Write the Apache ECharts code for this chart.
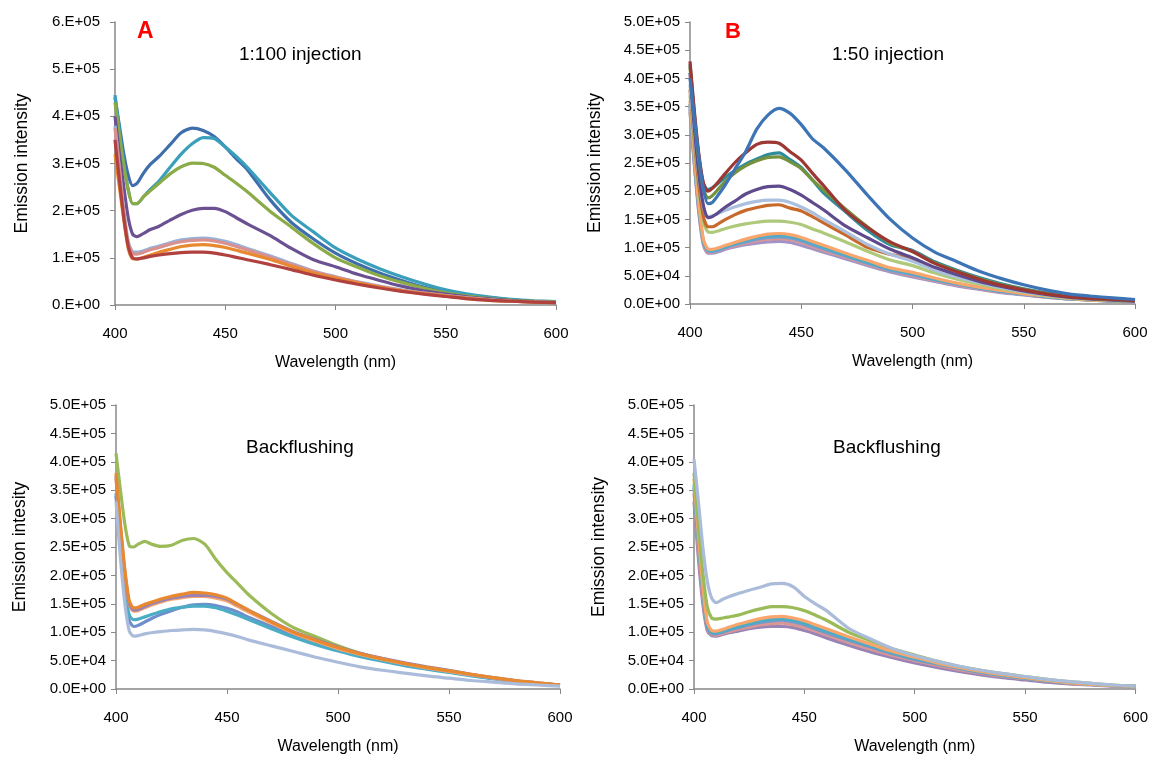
<!DOCTYPE html>
<html><head><meta charset="utf-8">
<script src="https://cdn.jsdelivr.net/npm/echarts@6/dist/echarts.min.js"></script>
<style>html,body{margin:0;padding:0;background:#fff}#c{width:1151px;height:760px}</style>
</head><body><div id="c"></div>
<script>
// wavelengths (nm)
const WL = [400,402,404,406,408,410,413,416,420,425,430,435,440,445,450,455,460,470,480,490,500,510,520,530,540,550,560,570,580,590,600];
// values in units of 1000 counts
// Panel A : 1:100 injection
const A_blue   = [440,380,320,275,253,258,280,298,315,340,365,375,370,357,335,310,287,225,175,140,110,87,68,52,38,28,20,15,11,8,6];
const A_cyan   = [445,370,300,245,215,215,230,245,263,292,320,342,355,353,335,315,292,240,190,155,121,97,77,60,45,32,23,17,12,9,7];
const A_green  = [430,360,295,243,215,215,230,242,258,278,293,301,300,292,275,258,240,200,165,130,100,80,62,48,36,26,19,14,10,8,6];
const A_purple = [400,320,250,185,150,145,152,160,167,180,192,201,205,205,198,185,172,148,120,96,81,65,52,40,30,23,17,13,9,7,5];
const A_lblue  = [380,290,200,135,113,112,115,120,125,132,138,141,142,140,135,128,120,105,88,72,60,49,40,32,25,20,15,11,8,6,5];
const A_pink   = [375,285,195,130,110,108,112,117,122,129,134,137,138,136,131,124,117,102,86,71,59,48,39,31,25,20,15,11,8,6,5];
const A_orange = [320,250,180,120,98,97,101,106,112,118,124,127,128,126,122,116,110,97,82,68,57,47,38,30,24,19,14,10,8,6,5];
const A_red    = [350,265,185,125,100,98,100,103,106,109,111,112,112,110,106,101,96,86,75,63,53,44,36,29,23,18,13,10,8,6,5];
// Panel B : 1:50 injection
const B_blue   = [400,330,260,205,178,180,195,212,238,270,310,335,347,338,318,293,277,237,192,150,117,92,75,58,45,34,25,18,14,11,8];
const B_red    = [430,340,265,215,200,205,218,232,250,268,283,287,285,270,255,232,210,165,135,110,93,72,57,44,33,25,18,13,10,8,6];
const B_olive  = [420,330,255,205,188,192,205,218,232,245,254,260,261,252,240,220,202,168,136,108,93,73,58,45,34,26,19,14,10,8,6];
const B_teal   = [425,335,260,213,203,206,215,225,236,248,257,265,268,256,242,220,197,163,130,105,95,75,60,47,36,27,20,15,11,8,6];
const B_purple = [410,310,230,175,153,155,163,172,182,195,203,208,209,203,193,180,167,138,117,97,82,65,52,40,31,23,17,12,9,7,5];
const B_lblue  = [390,300,225,172,155,156,161,166,172,178,182,184,184,180,172,162,150,128,105,88,76,60,48,38,29,22,16,12,9,7,5];
const B_brown  = [380,290,210,155,137,137,143,150,158,166,171,175,176,170,165,155,144,122,100,88,80,64,51,40,31,23,17,12,9,7,5];
const B_lgreen = [370,280,200,145,128,127,130,134,138,142,145,147,147,145,141,133,126,110,93,78,68,55,44,35,27,21,15,11,8,6,5];
const B_orange = [360,260,175,115,98,97,100,104,109,115,120,124,125,123,118,111,104,90,77,64,56,46,37,30,24,18,14,10,7,6,5];
const B_cyan   = [355,255,170,112,96,95,98,102,107,113,118,121,122,120,115,108,101,87,74,62,54,44,36,29,23,18,13,10,7,6,5];
const B_sblue  = [350,250,168,110,94,93,96,100,105,110,115,118,119,117,112,105,98,85,72,60,52,43,35,28,22,17,13,9,7,5,4];
const B_pink   = [345,248,165,108,92,92,95,99,103,108,112,115,116,114,109,102,95,83,70,59,50,42,34,27,21,17,12,9,7,5,4];
const B_lav    = [340,245,160,105,90,90,93,97,101,105,108,110,111,109,104,98,92,80,68,57,48,40,32,26,20,16,12,9,7,5,4];
// Panel C : Backflushing (A)
const C_green  = [415,350,290,252,250,255,260,255,251,253,262,265,255,228,205,185,165,133,108,92,76,63,53,45,38,32,25,19,14,10,7];
const C_orange = [380,290,210,155,143,144,149,153,158,163,167,170,169,166,160,149,138,118,100,86,73,62,53,45,38,32,26,20,15,11,7];
const C_lav    = [375,285,205,150,139,140,145,150,155,160,163,165,165,163,158,148,138,119,101,87,74,63,54,46,39,33,26,20,15,11,7];
const C_salmon = [370,280,200,148,137,138,143,148,153,158,161,163,163,160,155,145,135,116,98,84,71,61,52,44,37,31,25,19,14,10,7];
const C_blue   = [340,250,170,120,110,112,118,124,131,138,144,148,149,147,142,135,126,110,94,81,70,60,51,43,36,30,24,18,13,10,7];
const C_cyan   = [345,255,175,130,122,123,127,131,136,141,144,146,146,143,137,130,122,106,91,78,67,57,49,41,35,29,23,18,13,9,6];
const C_lblue  = [330,230,150,102,93,94,97,99,101,103,104,105,104,101,97,92,86,76,66,56,47,39,33,28,23,19,15,12,9,7,5];
// Panel D : Backflushing (B)
const D_lblue  = [405,330,250,190,160,152,158,163,168,174,179,185,186,180,163,150,138,107,88,71,59,49,40,33,27,22,17,13,10,7,5];
const D_green  = [380,290,205,145,125,123,125,127,130,136,141,145,145,143,138,130,121,100,85,71,60,49,40,33,27,22,17,13,10,7,5];
const D_orange = [370,270,180,118,103,102,105,109,114,119,124,127,128,125,120,113,106,92,79,66,56,46,38,31,25,20,15,11,8,6,5];
const D_cyan   = [360,262,175,112,100,99,102,106,110,115,120,123,124,121,116,109,102,88,76,64,54,45,37,30,24,19,15,11,8,6,5];
const D_blue   = [355,258,170,110,98,97,100,104,108,113,117,120,121,118,113,106,99,86,74,62,52,44,36,29,23,19,14,11,8,6,5];
const D_pink   = [345,245,162,107,96,95,98,101,105,109,113,115,116,113,108,102,95,82,70,59,50,42,34,28,22,18,14,10,8,6,4];
const D_purple = [330,230,150,103,94,93,96,99,102,106,109,110,110,108,103,97,90,77,65,55,46,38,31,25,20,16,12,9,7,5,4];

const Y_TICKS_A = {max: 600000, interval: 100000};
const Y_TICKS_BCD = {max: 500000, interval: 50000};

const panels = [
  {grid:{left:115, top:22, width:441, height:283}, y:Y_TICKS_A, fmtA:true, ymargin:15, ygap:84, yname:'Emission intensity',
   series:[[A_blue,'#3F6EAD'],[A_cyan,'#3A9FBA'],[A_green,'#8BAB48'],[A_purple,'#6B5192'],[A_lblue,'#97B2D9'],[A_pink,'#D9908E'],[A_orange,'#E8892F'],[A_red,'#B0413F']]},
  {grid:{left:690, top:22, width:445, height:282}, y:Y_TICKS_BCD, fmtA:false, ymargin:10, ygap:86, yname:'Emission intensity',
   series:[[B_lav,'#A392C6'],[B_pink,'#D99694'],[B_sblue,'#6FA0D0'],[B_cyan,'#4BACC6'],[B_orange,'#F9A56C'],[B_lgreen,'#AFC97A'],[B_brown,'#C8692A'],[B_lblue,'#ABC0DE'],[B_purple,'#5E4A8C'],[B_teal,'#2E8C9E'],[B_olive,'#76923C'],[B_red,'#9C3733'],[B_blue,'#3D74B6']]},
  {grid:{left:116, top:405, width:444, height:284}, y:Y_TICKS_BCD, fmtA:false, ymargin:10, ygap:87, yname:'Emission intesity',
   series:[[C_green,'#9BBB59'],[C_blue,'#6E8FCB'],[C_cyan,'#4BACC6'],[C_salmon,'#F9A56C'],[C_lav,'#9983B5'],[C_orange,'#E8892F'],[C_lblue,'#ABBCDB']]},
  {grid:{left:694, top:405, width:443, height:284}, y:Y_TICKS_BCD, fmtA:false, ymargin:10, ygap:86, yname:'Emission intensity',
   series:[[D_purple,'#9983B5'],[D_pink,'#D99694'],[D_blue,'#729ACA'],[D_cyan,'#4BACC6'],[D_orange,'#F9A56C'],[D_green,'#9BBB59'],[D_lblue,'#ABBCDB']]}
];

function fmtSci(v, noDec){
  if (v === 0) return noDec ? '0.E+00' : '0.0E+00';
  const e = Math.floor(Math.log10(v) + 1e-9);
  const m = v / Math.pow(10, e);
  return (noDec ? Math.round(m) + '.' : m.toFixed(1)) + 'E+' + (e < 10 ? '0' : '') + e;
}

const FONT = 'Liberation Sans, Arial, sans-serif';
const grids = [], xAxes = [], yAxes = [], series = [];
panels.forEach((p, i) => {
  grids.push(p.grid);
  xAxes.push({type:'value', gridIndex:i, min:400, max:600, interval:50,
    name:'Wavelength (nm)', nameLocation:'middle', nameGap:50,
    nameTextStyle:{fontFamily:FONT, fontSize:16, color:'#000'},
    axisLine:{show:true, lineStyle:{color:'#888', width:1.5}},
    axisTick:{show:true, length:5, lineStyle:{color:'#888'}},
    axisLabel:{fontFamily:FONT, fontSize:15, color:'#000', margin:21},
    splitLine:{show:false}});
  yAxes.push({type:'value', gridIndex:i, min:0, max:p.y.max, interval:p.y.interval,
    name:p.yname, nameLocation:'middle', nameGap:p.ygap, nameRotate:90,
    nameTextStyle:{fontFamily:FONT, fontSize:17.5, color:'#000'},
    axisLine:{show:true, lineStyle:{color:'#888', width:1.5}},
    axisTick:{show:true, length:5, lineStyle:{color:'#888'}},
    axisLabel:{fontFamily:FONT, fontSize:15, color:'#000', margin:p.ymargin,
      formatter:(v)=>fmtSci(v, p.fmtA)},
    splitLine:{show:false}});
  p.series.forEach(([arr, col]) => {
    series.push({type:'line', xAxisIndex:i, yAxisIndex:i, symbol:'none', smooth:0.25,
      data: WL.map((w, k) => [w, arr[k]*1000]),
      lineStyle:{color:col, width:3.2}, itemStyle:{color:col}, silent:true, animation:false});
  });
});

const chart = echarts.init(document.getElementById('c'), null, {renderer:'canvas'});
chart.setOption({
  animation:false,
  backgroundColor:'#fff',
  grid:grids, xAxis:xAxes, yAxis:yAxes, series:series,
  graphic:[
    {type:'text', left:137, top:20, style:{text:'A', fill:'#FF0000', font:'bold 23px '+FONT}},
    {type:'text', left:725, top:21, style:{text:'B', fill:'#FF0000', font:'bold 22px '+FONT}},
    {type:'text', left:239, top:45, style:{text:'1:100 injection', fill:'#000', font:'19px '+FONT}},
    {type:'text', left:832, top:45, style:{text:'1:50 injection', fill:'#000', font:'19px '+FONT}},
    {type:'text', left:246, top:438, style:{text:'Backflushing', fill:'#000', font:'19px '+FONT}},
    {type:'text', left:833, top:438, style:{text:'Backflushing', fill:'#000', font:'19px '+FONT}}
  ]
});
</script></body></html>
